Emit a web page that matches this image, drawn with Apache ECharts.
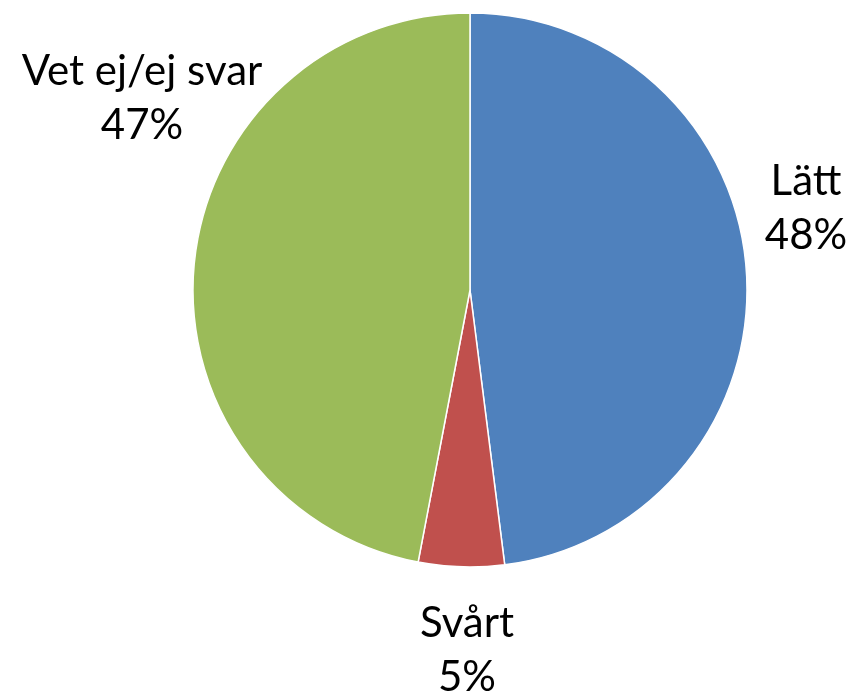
<!DOCTYPE html>
<html>
<head>
<meta charset="utf-8">
<script src="https://cdn.jsdelivr.net/npm/echarts@6/dist/echarts.min.js"></script>
<style>
html,body{margin:0;padding:0;background:#fff;}
#main{width:854px;height:700px;}
</style>
</head>
<body>
<div id="main"></div>
<script>
// svar kategorier och andelar (%)
var categories = ['Lätt', 'Svårt', 'Vet ej/ej svar'];
var values = [48, 5, 47];
var colors = ['#4F81BD', '#C0504D', '#9BBB59'];

// var etiketterna hamnar (mitt på texten)
var labelPos = [
	[806, 208],
	[467, 650],
	[142, 98]
];

var pieData = [];
for (var i = 0; i < categories.length; i++) {
	pieData.push({
		name: categories[i],
		value: values[i],
		itemStyle: { color: colors[i] }
	});
}

var chart = echarts.init(document.getElementById('main'));
var option = {
	animation: false,
	series: [{
		type: 'pie',
		center: [470, 290],
		radius: 277,
		startAngle: 90,
		clockwise: true,
		data: pieData,
		itemStyle: {
			borderColor: '#fff',
			borderWidth: 1.5
		},
		label: {
			show: true,
			position: 'outside',
			overflow: 'none',
			width: 400,
			formatter: function (p) {
				return p.name + '\n' + p.value + '%';
			},
			fontFamily: 'Lato, "Liberation Sans", sans-serif',
			fontSize: 42,
			lineHeight: 54,
			color: '#000',
			align: 'center',
			verticalAlign: 'middle'
		},
		labelLine: { show: false },
		labelLayout: function (params) {
			var p = labelPos[params.dataIndex];
			return {
				x: p[0],
				y: p[1],
				align: 'center',
				verticalAlign: 'middle'
			};
		}
	}]
};
chart.setOption(option);
</script>
</body>
</html>
